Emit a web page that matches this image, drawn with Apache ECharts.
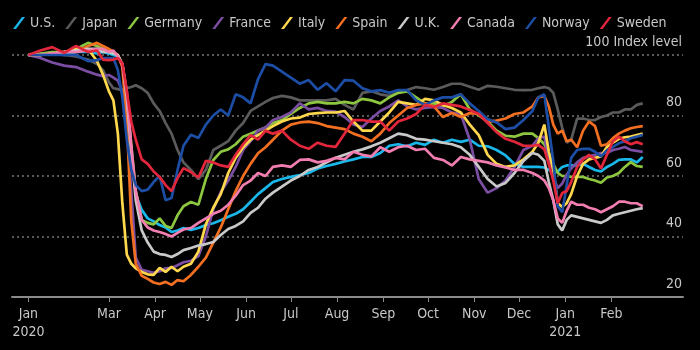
<!DOCTYPE html>
<html>
<head>
<meta charset="utf-8">
<script src="https://cdn.jsdelivr.net/npm/echarts@6.0.0/dist/echarts.min.js"></script>
<style>
  html, body { margin: 0; padding: 0; background: #000; }
  #chart { width: 700px; height: 350px; }
</style>
</head>
<body>
<div id="chart"></div>
<script>
// days since 1 Jan 2020
const days = [6,14,22,30,38,46,52,56,
  60,63,66,69,72,75,78,82,86,90,94,98,102,106,110,115,120,
  125,130,135,140,145,150,155,160,165,170,176,182,188,194,200,
  206,212,218,224,230,236,242,248,254,260,266,272,278,284,290,296,302,
  308,314,320,326,332,338,344,348,352,
  355,358,361,364,367,370,374,378,382,386,390,394,398,402,406,410,414,418]

const tickDays = [6,60,91,121,152,182,213,244,274,305,335,366,397]
const tickLabels = ['Jan\n2020','Mar','Apr','May','Jun','Jul','Aug','Sep','Oct','Nov','Dec','Jan\n2021','Feb']

const names = ['U.S.','Japan','Germany','France','Italy','Spain','U.K.','Canada','Norway','Sweden']
const colors = ['#1ab7ea','#5b5b5b','#8dc63f','#7b4ea3','#ffd84d','#f36f21','#c9c9c9','#f27db0','#1d4ea6','#e2263c']

const usVals = [100,100,100.5,100,101,101,100.5,101,
  100.5,100,99.5,97,86,68,54,48.8,46,45,43.8,43,41.5,42,42.8,42.2,42.8,
  43.8,44.4,45.4,46.5,47.5,49,51.5,54,56,58,59,59.7,60.3,61,62.5,
  63.3,64,64.8,65.5,66.3,66.3,67.6,70,70.5,69.8,71,70.3,72,71,72,71.3,72,
  70,69.8,68.6,66.8,64,63,63,63,62.8,
  62,61,61.5,63,63.5,63.5,63.5,64,63,62,61.5,63,64,65.3,65.5,65.5,64.5,66.3]
const japanVals = [100,100,101,100,99.5,98.5,97,95,
  91,89,88.7,88.4,89,89.4,90,89,87.5,84,81.5,77.5,74,68.6,64.5,62,59,
  62,68.6,70,71.5,75,77.5,81.5,83,84.5,85.8,86.5,86,85,85,85,
  85,85.5,83.5,82,87.5,88,87,86.5,87.5,88.4,89.4,89,88.5,89.4,90.5,90.5,89.5,
  88.5,89.8,89.5,89,88.5,88.4,88.5,89,89.4,
  89,87.5,82,76,71,72,79,79,78.5,78.5,79.5,80,81,81,82,82,83.5,84]
const germanyVals = [100,100.5,101,101,102,104,103,102,
  101,100.5,100,97,86,70,55,45.5,44.5,44,46,43.5,42.8,47,50,51.4,50.5,
  59,65.3,68,68.8,70.5,73,74,75,76,77.5,78.5,80.5,82.5,84,84.5,
  84,84,84.5,84,85.5,85,84,86,87.5,88,86,84,84,83,84.5,87,82,
  80,78,75,73.3,73,74,74,72.5,70.5,
  67,64,61,60,60,59.7,59.7,59.7,59,58.5,57.8,59.5,60,61,63,64.6,63.3,63]
const franceVals = [100,99,97.5,96.5,96,94.5,93.5,93,
  93.4,92.5,91.5,88,76,55,33,29,28.5,28,28.5,29.5,29.6,30.5,31.5,32,33.5,
  40,49,54.7,58.5,63,68.6,71.5,75,76,78.5,79.5,81,84,82,82.5,
  81.5,81.3,79.5,77,76.2,79,81.5,83,85,83,82,82.5,82.8,82.5,81,80.5,72,
  59,54.5,56,58.5,63,68.6,70,72.5,73,
  65,59.7,56,57.5,60.5,62.5,64.5,66,66.5,67,67.6,67.6,68.6,69,69.6,68.6,68.3,68]
const italyVals = [100,100,100.5,101,102,102,98,93.5,
  88,85,74,51,34,31,29.5,28.3,27.5,27.3,29.6,28.3,30,28.5,30,31,35,
  44,49.5,54,61,66,69.5,72,73.5,75,76.5,78,79,79.3,80.5,80.8,
  81,81,81.5,78,75,75,78,81,84.5,84,83.5,85.5,85,83.5,82.5,81,77,
  73.5,67,64,63,63.5,65.5,68,71,77,
  68,62,51,49.8,51,54,60,64,65.5,66,66.5,69.6,71,72.3,72.8,73,73.5,74]
const spainVals = [100,100,100.5,101,101,103,104,103,
  102,101,100,96,78,45,31,27,26,24.8,24.3,25,24,25.6,25.2,27.3,30,
  33,38,43,49,55,60,64,67.5,69.5,72,75,77,77.7,78,77.5,
  76.5,76,75.5,74,73,71.5,74,77.5,80,82.5,83.5,84,83,79.5,80.8,79.5,80.8,
  80.5,78,78.3,79,80.5,81,83,86,86.5,
  83,77,74,75,71.5,72,69.5,75,78,76.5,70,70.5,72.5,74,75,75.8,76.2,76.5]
const ukVals = [100,100,100.5,101,101.5,102,102,101,
  101,100.5,100,97,86,68,52,42,38,35,34.2,33.9,33.2,34.2,35.5,36.2,37,
  37.5,38.2,40.5,42.5,43.5,45,47.8,49.5,52.5,54.5,56.5,58.5,60,62,63,
  64.5,66,67,68,68.8,69.8,71,72.5,74,73.5,72.3,72,71.5,71,70.5,69.5,67,
  63,59,56.5,57.7,61,65,67.6,67,65,
  58,52,44,42,45.5,47,46.5,46,45.5,45,44.5,45.5,47,47.5,48,48.5,49,49.4]
const canadaVals = [100,100,100.5,101,101,101.5,102,102,
  101,101.5,99.5,97,88,70,55,45.5,43,42,41.5,40.8,40,41.2,42.3,42.8,44.5,
  46,47.5,48.5,50.5,53.5,57,58.5,61,60,63,63.5,63,65.3,65.5,64.5,
  65,66,65.5,68,67,66.5,69.5,68,69.5,70,68.6,69,66,65.3,63.5,66.3,65.5,
  65,64.5,63.5,62.8,62,62,61,60,58.5,
  56,52,46,44.5,48.5,51.5,50.5,50.5,49.5,49,48,49,50,51.5,51.5,51,51,50]
const norwayVals = [100,100,100,100,100,98,98.3,99,
  99,99,95,86,72,62,57,55,55.5,58,60,52,52.7,62,70,73.6,72.6,
  77,80,82,80,87,86,84,92,97,96.5,94.5,92.5,90.5,91.7,88.5,
  90.7,88,91.7,91.5,89,88,88.4,87.5,88.4,88.4,85,83.5,85,86,86,87,84,
  81.5,78.8,77.7,75.5,76,78.5,81.5,86,87,
  76,65,50,48,57,66,68.6,69,69,68,66.5,68.5,69.6,70.8,71.5,72.5,73,73.6]
const swedenVals = [100,101.5,102.6,100.7,103,101,101.5,98.5,
  98.3,98.5,99,97.3,88,78,72,65.5,64,61.5,59.7,57,55,59.3,62.6,61.3,59.5,
  65,64.5,63.5,63,67,70.5,73.5,72,75,74,75,72,70,69,71,
  70,69.6,74,78.5,78.5,78,78,75,78,79,80.5,83.5,82.8,84,83.5,83,81.8,
  80.5,77.5,74.5,72.3,71.3,70,70,70.3,68.8,
  64,58.5,51,54.4,55,58,63,65.5,67,65.5,62.5,67,71.5,73,71.5,70.5,71.2,70.5]

const allVals = [usVals, japanVals, germanyVals, franceVals, italyVals, spainVals, ukVals, canadaVals, norwayVals, swedenVals]

const font = "'Liberation Sans Narrow', 'DejaVu Sans Condensed', 'Roboto', sans-serif"

const chart = echarts.init(document.getElementById('chart'))

const series = names.map(function (name, i) {
  return {
    name: name,
    type: 'line',
    showSymbol: false,
    clip: false,
    data: days.map(function (d, j) { return [d, allVals[i][j]] }),
    itemStyle: { color: colors[i] },
    lineStyle: { color: colors[i], width: 2.7 }
  }
})

chart.setOption({
  backgroundColor: '#000',
  animation: false,
  legend: {
    left: 8,
    top: 11,
    width: 690,
    itemWidth: 12,
    itemHeight: 12,
    itemGap: 10,
    icon: 'path://M0,12 L9,0 L12,0 L3,12 Z',
    textStyle: { color: '#c8c8c8', fontSize: 14, fontFamily: font },
    data: names
  },
  grid: { left: 12, right: 17, top: 55, bottom: 53 },
  xAxis: {
    type: 'value',
    min: -5,
    max: 445,
    axisLine: { lineStyle: { color: '#8a8a8a', width: 2 } },
    axisTick: { customValues: tickDays, length: 5, lineStyle: { color: '#8a8a8a', width: 1 } },
    axisLabel: {
      customValues: tickDays,
      color: '#c8c8c8',
      fontSize: 14,
      lineHeight: 18,
      margin: 8,
      fontFamily: font,
      formatter: function (v) { return tickLabels[tickDays.indexOf(v)] }
    },
    splitLine: { show: false }
  },
  yAxis: {
    type: 'value',
    position: 'right',
    min: 20,
    max: 100,
    interval: 20,
    axisLine: { show: false },
    axisTick: { show: false },
    axisLabel: {
      inside: true,
      margin: 1,
      color: '#c8c8c8',
      fontSize: 14,
      fontFamily: font,
      verticalAlign: 'bottom',
      lineHeight: 16,
      padding: [0, 0, 5, 0],
      formatter: function (v) { return v === 100 ? '100 Index level' : String(v) }
    },
    splitLine: { lineStyle: { color: '#777', type: [2, 3], width: 1.5 } }
  },
  series: series
})
</script>
</body>
</html>
